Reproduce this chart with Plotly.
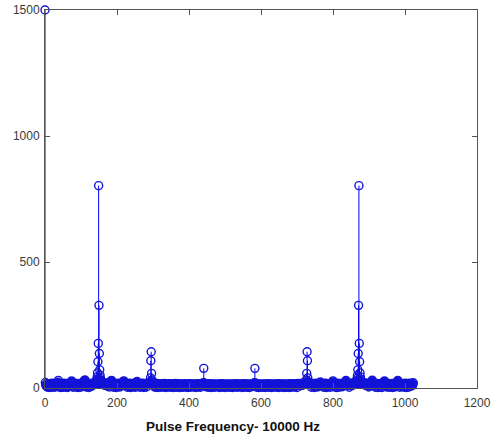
import numpy as np
import plotly.graph_objects as go

# FFT magnitude per bin (bins 0..1023), read row by row (32 bins per row)
mag_rows = [
    [1500, 22, 14, 9, 12, 6, 15, 3, 11, 17, 5, 13, 9, 16, 2, 12, 18, 6, 10, 14, 4, 19, 11, 5, 13, 16, 9, 3, 15, 12, 18, 10],
    [8, 14, 11, 17, 22, 30, 19, 4, 13, 6, 16, 12, 2, 18, 10, 15, 7, 13, 17, 3, 11, 19, 6, 14, 12, 4, 16, 10, 18, 13, 2, 15],
    [11, 5, 17, 12, 6, 15, 13, 18, 21, 24, 28, 20, 14, 10, 3, 16, 12, 19, 7, 13, 11, 17, 4, 15, 6, 14, 18, 10, 2, 16, 8, 13],
    [17, 10, 14, 3, 19, 12, 9, 15, 11, 18, 13, 22, 25, 29, 26, 32, 20, 15, 4, 16, 12, 8, 14, 19, 10, 2, 17, 6, 15, 11, 18, 5],
    [14, 12, 18, 9, 16, 11, 19, 13, 15, 20, 17, 22, 19, 24, 21, 26, 34, 44, 60, 104, 177, 803, 328, 137, 72, 50, 38, 30, 26, 22, 19, 24],
    [17, 21, 14, 18, 12, 16, 20, 11, 15, 13, 19, 9, 14, 17, 10, 16, 12, 18, 4, 13, 15, 22, 26, 24, 28, 30, 21, 14, 11, 17, 3, 15],
    [12, 8, 16, 10, 18, 13, 2, 15, 11, 17, 9, 14, 19, 6, 12, 16, 4, 13, 18, 8, 15, 11, 17, 20, 23, 26, 22, 28, 25, 19, 13, 10],
    [16, 9, 14, 12, 18, 3, 13, 17, 10, 15, 5, 19, 11, 14, 2, 16, 12, 18, 9, 13, 15, 4, 17, 7, 14, 19, 11, 16, 3, 21, 24, 20],
    [26, 18, 12, 15, 9, 17, 11, 14, 3, 16, 13, 10, 18, 12, 5, 15, 19, 11, 14, 2, 17, 13, 9, 16, 12, 18, 4, 15, 14, 17, 19, 16],
    [20, 18, 22, 19, 24, 40, 108, 144, 58, 32, 22, 18, 15, 19, 12, 16, 4, 14, 11, 17, 3, 13, 15, 10, 18, 12, 2, 16, 11, 14, 9, 17],
    [13, 10, 15, 3, 17, 12, 6, 14, 11, 16, 4, 13, 18, 7, 12, 15, 2, 14, 8, 16, 11, 13, 5, 17, 9, 12, 15, 3, 14, 7, 16, 11],
    [9, 14, 12, 17, 2, 13, 16, 10, 15, 4, 12, 18, 11, 14, 3, 16, 7, 13, 15, 10, 17, 12, 2, 14, 11, 16, 9, 13, 4, 15, 12, 10],
    [14, 3, 16, 11, 13, 7, 17, 12, 5, 15, 10, 14, 2, 13, 16, 11, 8, 15, 12, 17, 3, 14, 10, 13, 7, 16, 11, 15, 4, 12, 14, 9],
    [13, 10, 16, 2, 12, 15, 9, 14, 11, 17, 4, 13, 16, 10, 12, 14, 3, 15, 11, 13, 17, 14, 16, 19, 21, 78, 20, 16, 13, 10, 15, 5],
    [12, 16, 9, 14, 11, 3, 15, 13, 10, 17, 8, 12, 14, 2, 16, 11, 13, 9, 15, 4, 12, 7, 14, 16, 3, 13, 11, 15, 9, 12, 10, 14],
    [7, 13, 16, 10, 2, 15, 8, 14, 11, 4, 17, 13, 6, 12, 15, 3, 14, 8, 16, 11, 13, 2, 12, 15, 7, 14, 10, 13, 16, 4, 11, 12],
    [10, 14, 3, 13, 16, 8, 12, 15, 11, 2, 14, 13, 10, 16, 5, 12, 15, 8, 13, 11, 17, 3, 14, 12, 10, 15, 4, 13, 11, 16, 8, 12],
    [15, 11, 13, 2, 16, 10, 12, 14, 4, 13, 17, 8, 11, 15, 12, 3, 14, 6, 16, 13, 9, 12, 15, 2, 14, 8, 13, 10, 16, 12, 5, 14],
    [11, 15, 13, 17, 19, 16, 21, 78, 20, 18, 14, 12, 3, 15, 11, 13, 8, 16, 2, 14, 12, 7, 15, 13, 4, 11, 16, 10, 14, 3, 12, 15],
    [9, 13, 11, 16, 2, 14, 12, 10, 15, 4, 13, 17, 11, 9, 14, 3, 16, 10, 13, 8, 15, 11, 2, 14, 9, 16, 7, 13, 4, 15, 12, 11],
    [14, 10, 16, 3, 13, 11, 15, 9, 12, 17, 2, 14, 10, 13, 16, 5, 8, 15, 12, 4, 14, 13, 10, 16, 2, 12, 15, 11, 14, 3, 13, 10],
    [12, 16, 4, 14, 11, 13, 2, 15, 10, 17, 12, 8, 14, 3, 16, 9, 13, 15, 10, 12, 14, 4, 17, 11, 13, 9, 16, 12, 2, 15, 18, 14],
    [17, 13, 16, 10, 15, 12, 18, 9, 14, 11, 16, 13, 19, 12, 15, 17, 14, 18, 16, 20, 18, 22, 32, 58, 144, 108, 40, 24, 19, 22, 18, 20],
    [15, 19, 12, 16, 3, 14, 17, 11, 13, 8, 15, 18, 2, 14, 12, 16, 7, 13, 19, 11, 15, 4, 17, 12, 14, 10, 18, 13, 16, 24, 20, 15],
    [11, 17, 9, 14, 12, 16, 3, 13, 18, 10, 15, 12, 19, 2, 14, 11, 16, 13, 4, 15, 12, 17, 10, 14, 18, 3, 13, 16, 11, 15, 20, 23],
    [28, 22, 16, 12, 18, 4, 14, 11, 17, 13, 2, 15, 19, 10, 12, 16, 14, 3, 17, 11, 13, 18, 7, 15, 12, 16, 5, 14, 19, 11, 13, 17],
    [12, 18, 21, 25, 30, 26, 24, 19, 14, 10, 16, 13, 18, 3, 15, 12, 17, 11, 14, 19, 13, 16, 10, 18, 15, 20, 17, 22, 19, 24, 21, 26],
    [22, 26, 30, 38, 50, 72, 137, 328, 803, 177, 104, 60, 44, 34, 26, 24, 19, 22, 17, 21, 15, 18, 13, 16, 20, 12, 17, 14, 19, 11, 15, 18],
    [10, 16, 13, 4, 17, 12, 15, 8, 14, 19, 11, 22, 26, 31, 24, 18, 13, 16, 10, 14, 12, 17, 3, 15, 11, 18, 13, 2, 16, 12, 14, 10],
    [17, 11, 15, 3, 13, 18, 12, 16, 2, 14, 19, 10, 13, 21, 25, 28, 24, 20, 15, 11, 17, 4, 14, 12, 16, 10, 18, 13, 3, 15, 11, 14],
    [13, 9, 16, 12, 18, 2, 14, 7, 15, 11, 17, 13, 4, 16, 12, 19, 14, 10, 21, 26, 30, 23, 17, 12, 15, 3, 14, 18, 11, 13, 16, 5],
    [15, 12, 18, 10, 14, 17, 3, 13, 16, 11, 19, 8, 14, 2, 17, 10, 15, 13, 18, 4, 16, 11, 14, 19, 7, 13, 17, 12, 15, 10, 16, 21],
]

bad = [(i, len(r)) for i, r in enumerate(mag_rows) if len(r) != 32]
if bad:
    raise SystemExit(f"row length problem: {bad}")

magnitude = [v for row in mag_rows for v in row]
bins = list(range(len(magnitude)))

x_ticks = [0, 200, 400, 600, 800, 1000, 1200]
y_ticks = [0, 500, 1000, 1500]
x_title = "Pulse Frequency- 10000 Hz"

BLUE = "#0000FF"
CIRCLE = "#1414D8"

fig = go.Figure()
fig.add_trace(go.Scatter(
    x=bins, y=magnitude, mode="markers",
    marker=dict(symbol="circle-open", size=8, color=CIRCLE, line=dict(width=1.4, color=CIRCLE)),
    error_y=dict(type="data", symmetric=False, array=[0] * len(magnitude),
                 arrayminus=magnitude, width=0, thickness=1, color=BLUE),
    cliponaxis=False, showlegend=False, hoverinfo="x+y",
))

axis_common = dict(
    showline=True, linecolor="#555555", linewidth=1, mirror="ticks",
    ticks="inside", ticklen=5, tickcolor="#555555", tickwidth=1,
    showgrid=False, zeroline=False, automargin=False,
    tickfont=dict(family="Liberation Sans, Arial, sans-serif", size=12, color="#3a3a3a"),
)

fig.update_xaxes(range=[0, 1200], tickvals=x_ticks, ticktext=[str(t) for t in x_ticks],
                 ticklabelstandoff=4, **axis_common)
fig.update_yaxes(range=[0, 1500], tickvals=y_ticks, ticktext=[str(t) for t in y_ticks],
                 ticklabelstandoff=2, **axis_common)

fig.add_annotation(
    text=f"<b>{x_title}</b>", xref="paper", yref="paper", x=0.436, y=-0.102,
    xanchor="center", yanchor="middle", showarrow=False,
    font=dict(family="Liberation Sans, Arial, sans-serif", size=13.5, color="#111111"),
)

fig.update_layout(
    width=494, height=436,
    margin=dict(l=45, r=17, t=10, b=48),
    paper_bgcolor="white", plot_bgcolor="white",
)

fig.write_html("out.html")
